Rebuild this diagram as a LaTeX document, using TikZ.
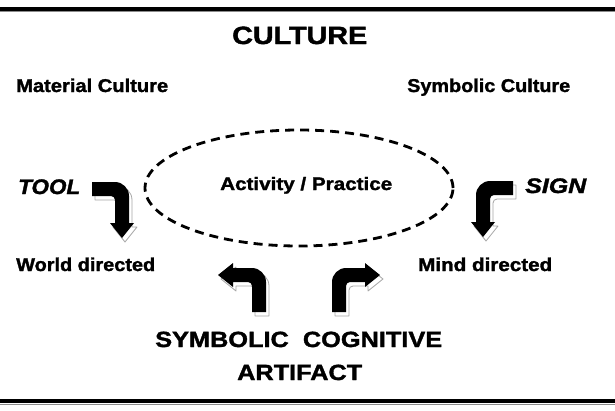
\documentclass[tikz,border=0pt]{standalone}
\usepackage{fontspec}
\usepackage{graphicx}
\setmainfont{Liberation Sans}[BoldFeatures={FakeBold=1.5},BoldItalicFeatures={FakeBold=1.5}]
\newcommand\fitw[3]{\resizebox{#2pt}{\height}{\fontsize{#1}{#1}\selectfont #3}}
\newcommand\barrowpath[2]{(0,0) -- ({#1-7},0) .. controls ({#1+0.7},0) and ({#1+7},6.3) .. ({#1+7},14) -- ({#1+7},{#2-15}) -- ({#1+12},{#2-15}) -- (#1,#2) -- ({#1-12},{#2-15}) -- ({#1-7},{#2-15}) -- ({#1-7},18) .. controls ({#1-7},15.8) and ({#1-8.8},14) .. ({#1-11},14) -- (0,14) -- cycle}
\newcommand\bentarrow[3]{%
  \begin{scope}[shift={(3,4)},#1]\filldraw[arrowshadow] \barrowpath{#2}{#3};\end{scope}
  \begin{scope}[#1]\fill[black] \barrowpath{#2}{#3};\end{scope}}
\tikzset{
  lbl/.style={anchor=base west, inner sep=0pt, font=\bfseries},
  ilbl/.style={anchor=base west, inner sep=0pt, font=\bfseries\itshape},
  arrowshadow/.style={fill=white, draw=black!35, line width=0.8pt, line join=round},
  dashring/.style={draw=black, line width=2.8pt, dash pattern=on 9pt off 6pt},
  rule/.style={line width=4pt, draw=black},
  ruleshade/.style={line width=1.5pt, draw=black!45}
}
\begin{document}
\begin{tikzpicture}[x=1pt,y=-1pt]
\useasboundingbox (0,0) rectangle (615,410);
% frame rules
\draw[ruleshade] (0,11.5) -- (615,11.5);
\draw[rule] (0,8.5) -- (615,8.5);
\draw[ruleshade] (0,404.5) -- (615,404.5);
\draw[rule] (0,401) -- (615,401);
% ellipse
\draw[dashring] (299,188) ellipse [x radius=154pt, y radius=58pt];
% texts
\node[lbl] (culture) at (232,44) {\fitw{25}{135}{CULTURE}};
\node[lbl] (mat) at (16,92) {\fitw{18.5}{152}{Material Culture}};
\node[lbl] (sym) at (407,92) {\fitw{18.5}{163}{Symbolic Culture}};
\node[ilbl] (tool) at (18,194) {\fitw{21}{62}{TOOL}};
\node[ilbl] (sign) at (525,193) {\fitw{21}{61}{SIGN}};
\node[lbl] (act) at (220,190) {\fitw{18}{172}{Activity / Practice}};
\node[lbl] (world) at (16,271) {\fitw{18.5}{139}{World directed}};
\node[lbl] (mind) at (418,271) {\fitw{18.5}{134}{Mind directed}};
\node[lbl] (sc) at (155,347) {\fitw{22}{287}{SYMBOLIC\ \ COGNITIVE}};
\node[lbl] (art) at (237,380) {\fitw{22}{125}{ARTIFACT}};
% bent arrows
\bentarrow{shift={(92,182)}}{30}{56}
\bentarrow{shift={(513,181)},xscale=-1}{30}{56}
\bentarrow{shift={(266,312)},xscale=-1,rotate=90}{37}{48}
\bentarrow{shift={(332,312)},rotate=90}{37}{48}
\end{tikzpicture}
\end{document}
